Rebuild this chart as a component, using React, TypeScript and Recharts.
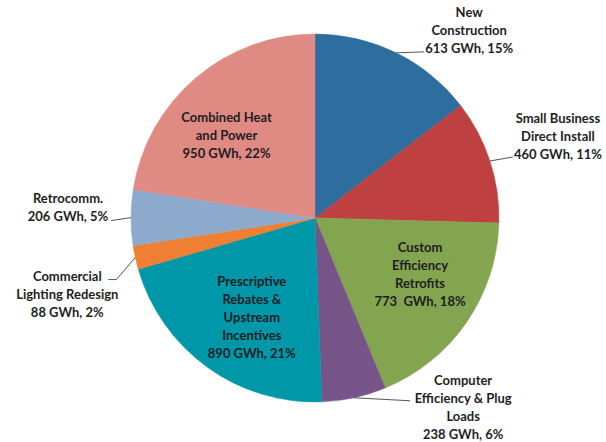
import React from 'react';
import { PieChart, Pie, Cell } from 'recharts';

const categories = [
  'New Construction',
  'Small Business Direct Install',
  'Custom Efficiency Retrofits',
  'Computer Efficiency & Plug Loads',
  'Prescriptive Rebates & Upstream Incentives',
  'Commercial Lighting Redesign',
  'Retrocomm.',
  'Combined Heat and Power',
];
const gwh = [613, 460, 773, 238, 890, 88, 206, 950];
const percents = [15, 11, 18, 6, 21, 2, 5, 22];
const nameLines = [
  ['New', 'Construction'],
  ['Small Business', 'Direct Install'],
  ['Custom', 'Efficiency', 'Retrofits'],
  ['Computer', 'Efficiency & Plug', 'Loads'],
  ['Prescriptive', 'Rebates &', 'Upstream', 'Incentives'],
  ['Commercial', 'Lighting Redesign'],
  ['Retrocomm.'],
  ['Combined Heat', 'and Power'],
];
const valueSeparators = [' ', ' ', '  ', ' ', ' ', ' ', ' ', ' '];

const colors = ['#2D6E9E', '#BF4041', '#84A54F', '#765488', '#0098A9', '#EF7F33', '#8DA9CB', '#E08A84'];

const data = categories.map((name, i) => ({ name, value: gwh[i] }));

// label layout: inside -> polar offset; outside -> leader line + text block relative to slice edge point
type Layout =
  | { kind: 'in'; rf: number; da: number }
  | { kind: 'out'; pts: [number, number][]; tx: number; ty: number };

const layouts: Layout[] = [
  { kind: 'out', pts: [[28, -1]], tx: 73, ty: -23 },
  { kind: 'out', pts: [[23, -4]], tx: 68, ty: -24.5 },
  { kind: 'in', rf: 0.648, da: 6.3 },
  { kind: 'out', pts: [[56, 3]], tx: 109, ty: 9 },
  { kind: 'in', rf: 0.64, da: 3.4 },
  { kind: 'out', pts: [[-19, 22], [-27, 22]], tx: -68, ty: 36 },
  { kind: 'out', pts: [[-20, 3]], tx: -63, ty: -11 },
  { kind: 'in', rf: 0.66, da: 6.2 },
];

const RAD = Math.PI / 180;
const LINE_H = 18;

const renderLabel = (props: any) => {
  const { cx, cy, midAngle, outerRadius, index } = props;
  const lay = layouts[index];
  const lines = [...nameLines[index], `${gwh[index]}${valueSeparators[index]}GWh, ${percents[index]}%`];
  let bx: number;
  let by: number;
  let leader: React.ReactNode = null;
  if (lay.kind === 'in') {
    const a = (midAngle + lay.da) * RAD;
    const r = outerRadius * lay.rf;
    bx = cx + r * Math.cos(a);
    by = cy - r * Math.sin(a);
  } else {
    const a = midAngle * RAD;
    const ex = cx + outerRadius * Math.cos(a);
    const ey = cy - outerRadius * Math.sin(a);
    const pts = [[ex, ey], ...lay.pts.map(([dx, dy]) => [ex + dx, ey + dy])];
    leader = (
      <polyline
        points={pts.map((p) => p.join(',')).join(' ')}
        fill="none"
        stroke="#555"
        strokeWidth={1}
      />
    );
    bx = ex + lay.tx;
    by = ey + lay.ty;
  }
  const n = lines.length;
  return (
    <g key={`lbl-${index}`}>
      {leader}
      {lines.map((t, k) => (
        <text
          key={k}
          x={bx}
          y={by + (k - (n - 1) / 2) * LINE_H}
          textAnchor="middle"
          dominantBaseline="central"
          fontFamily="Lato, 'Open Sans', sans-serif"
          fontWeight="bold"
          fontSize={13}
          fill="#1E1E24"
          style={{ whiteSpace: 'pre' }}
        >
          {t}
        </text>
      ))}
    </g>
  );
};

export default function App() {
  return (
    <div style={{ width: 606, height: 442, background: '#fff' }}>
      <style>{`body{margin:0;}`}</style>
      <PieChart width={606} height={442} margin={{ top: 0, right: 0, bottom: 0, left: 0 }}>
        <Pie
          data={data}
          dataKey="value"
          nameKey="name"
          cx={315}
          cy={218}
          outerRadius={184}
          startAngle={90}
          endAngle={-270}
          isAnimationActive={false}
          label={renderLabel}
          labelLine={false}
        >
          {data.map((d, i) => (
            <Cell key={d.name} fill={colors[i]} stroke={colors[i]} strokeWidth={0.5} />
          ))}
        </Pie>
      </PieChart>
    </div>
  );
}
